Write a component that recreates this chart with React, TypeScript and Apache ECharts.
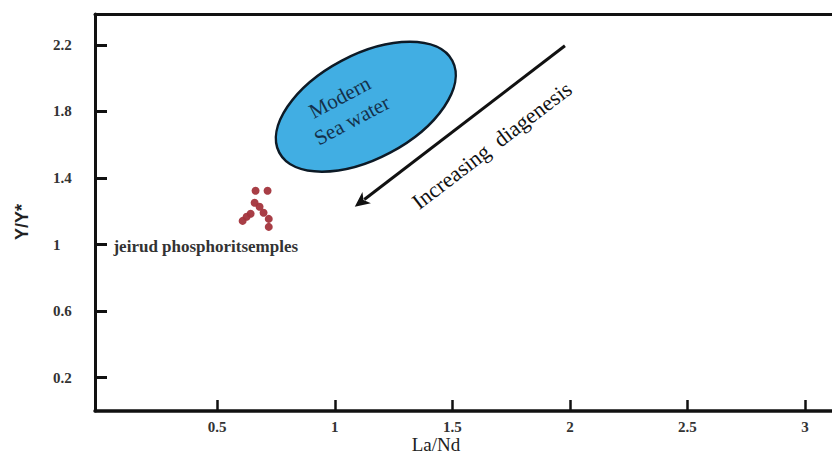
import React, { useEffect, useRef } from "react";
import * as echarts from "echarts";

// ---- data ----
const xTickValues = [0.5, 1, 1.5, 2, 2.5, 3];
const yTickValues = [0.2, 0.6, 1, 1.4, 1.8, 2.2];
const sampleLaNd = [0.663, 0.714, 0.659, 0.68, 0.697, 0.642, 0.625, 0.608, 0.719, 0.719];
const sampleYY = [1.323, 1.323, 1.251, 1.227, 1.191, 1.185, 1.167, 1.142, 1.154, 1.106];
const sampleLabel = "jeirud phosphoritsemples";
const xName = "La/Nd";
const yName = "Y/Y*";
const seaWaterLabel = "Modern\nSea water";
const arrowLabel = "Increasing  diagenesis";

// annotation anchors (data space)
const seaWaterCenter = [1.132, 1.828];
const arrowFrom = [1.979, 2.194];
const arrowTo = [1.085, 1.227];
const sampleLabelAnchor = [0.05, 1.0];

const serif = "Liberation Serif";

export default function App() {
  const ref = useRef<HTMLDivElement>(null);
  useEffect(() => {
    if (!ref.current) return;
    const chart = echarts.init(ref.current, null, { renderer: "svg" });
    const axisLineStyle = { color: "#111", width: 3 };
    chart.setOption({
      animation: false,
      backgroundColor: "#fff",
      grid: { left: 95, right: 0, top: 14, bottom: 45 },
      xAxis: [
        {
          type: "value",
          min: -0.02,
          max: 3.115,
          axisLine: { show: true, lineStyle: { color: "#111", width: 3.5 } },
          axisTick: {
            show: true,
            inside: true,
            length: 11,
            customValues: xTickValues,
            lineStyle: { color: "#111", width: 2.5 },
          },
          axisLabel: {
            customValues: xTickValues,
            margin: 8,
            fontFamily: serif,
            fontWeight: "bold",
            fontSize: 15,
            color: "#333",
          },
          splitLine: { show: false },
        },
        {
          type: "value",
          position: "top",
          min: -0.02,
          max: 3.115,
          axisLine: { show: true, onZero: false, lineStyle: axisLineStyle },
          axisTick: { show: false },
          axisLabel: { show: false },
          splitLine: { show: false },
        },
      ],
      yAxis: {
        type: "value",
        min: 0,
        max: 2.385,
        axisLine: { show: true, onZero: false, lineStyle: axisLineStyle },
        axisTick: {
          show: true,
          inside: true,
          length: 12,
          customValues: yTickValues,
          lineStyle: { color: "#111", width: 3 },
        },
        axisLabel: {
          customValues: yTickValues,
          align: "left",
          margin: 42,
          fontFamily: serif,
          fontWeight: "bold",
          fontSize: 15,
          color: "#333",
        },
        splitLine: { show: false },
      },
      series: [
        {
          type: "scatter",
          xAxisIndex: 0,
          data: sampleLaNd.map((x, i) => [x, sampleYY[i]]),
          symbolSize: 8,
          itemStyle: { color: "#a3343c", opacity: 0.95 },
        },
      ],
    });

    const px = (p: number[]) => chart.convertToPixel({ gridIndex: 0 }, p) as number[];
    const c = px(seaWaterCenter);
    const a0 = px(arrowFrom);
    const a1 = px(arrowTo);
    const sl = px(sampleLabelAnchor);
    const dx = a1[0] - a0[0];
    const dy = a1[1] - a0[1];
    const len = Math.hypot(dx, dy);
    const ux = dx / len;
    const uy = dy / len;
    const headL = 15;
    const headW = 7;
    const bx = a1[0] - ux * headL;
    const by = a1[1] - uy * headL;
    const arrowAngle = Math.atan2(dy, -dx); // text along arrow, reading up-right
    const mid = [(a0[0] + a1[0]) / 2 + 32, (a0[1] + a1[1]) / 2 + 19];

    chart.setOption({
      graphic: [
        {
          type: "ellipse",
          x: c[0],
          y: c[1],
          rotation: (28 * Math.PI) / 180,
          shape: { cx: 0, cy: 0, rx: 98, ry: 52 },
          style: { fill: "#41aee3", stroke: "#0d1a26", lineWidth: 2.5 },
          z: 10,
        },
        {
          type: "text",
          x: c[0] - 20,
          y: c[1] + 2,
          rotation: (28 * Math.PI) / 180,
          style: {
            text: seaWaterLabel,
            fontFamily: serif,
            fontSize: 21,
            fill: "#14304a",
            align: "center",
            verticalAlign: "middle",
            lineHeight: 26,
          },
          z: 11,
        },
        {
          type: "line",
          shape: { x1: a0[0], y1: a0[1], x2: bx + ux * 3, y2: by + uy * 3 },
          style: { stroke: "#111", lineWidth: 3 },
          z: 10,
        },
        {
          type: "polygon",
          shape: {
            points: [
              [a1[0], a1[1]],
              [bx - uy * headW, by + ux * headW],
              [bx + ux * 4, by + uy * 4],
              [bx + uy * headW, by - ux * headW],
            ],
          },
          style: { fill: "#111" },
          z: 10,
        },
        {
          type: "text",
          x: mid[0],
          y: mid[1],
          rotation: arrowAngle,
          style: {
            text: arrowLabel,
            fontFamily: serif,
            fontSize: 22,
            fill: "#111",
            align: "center",
            verticalAlign: "middle",
          },
          z: 10,
        },
        {
          type: "text",
          x: sl[0] + 2,
          y: sl[1] + 2,
          style: {
            text: sampleLabel,
            fontFamily: serif,
            fontSize: 17,
            fontWeight: "bold",
            fill: "#333",
            align: "left",
            verticalAlign: "middle",
          },
          z: 10,
        },
        {
          type: "text",
          x: 436,
          y: 444,
          style: {
            text: xName,
            fontFamily: serif,
            fontSize: 19,
            fill: "#222",
            align: "center",
            verticalAlign: "middle",
          },
        },
        {
          type: "text",
          x: 22,
          y: 222,
          rotation: Math.PI / 2,
          style: {
            text: yName,
            fontFamily: "Liberation Sans",
            fontSize: 18,
            fontWeight: "bold",
            fill: "#222",
            align: "center",
            verticalAlign: "middle",
          },
        },
      ],
    });
    return () => chart.dispose();
  }, []);
  return (
    <div
      ref={ref}
      style={{ position: "absolute", left: 0, top: 0, width: 832, height: 456 }}
    />
  );
}
